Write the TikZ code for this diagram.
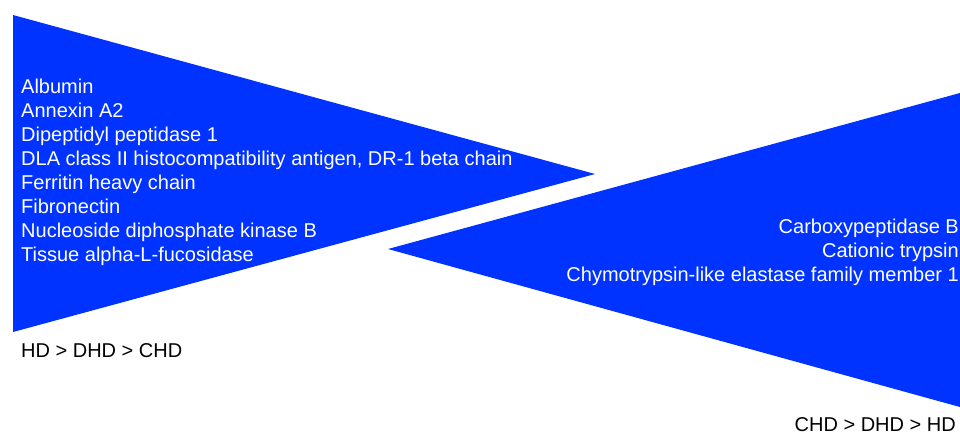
\documentclass[tikz,border=0pt]{standalone}
\usepackage{fontspec}
\setmainfont{Liberation Sans}
\definecolor{tri}{RGB}{0,51,255}
\begin{document}
\begin{tikzpicture}[x=1pt,y=-1pt,
  wt/.style={text=white,font=\fontsize{20}{24}\selectfont,inner sep=0pt},
  bt/.style={text=black,font=\fontsize{20}{24}\selectfont,inner sep=0pt}]
\useasboundingbox (0,0) rectangle (960,434);
\fill[tri] (13,15) -- (595,174) -- (13,332) -- cycle;
\fill[tri] (960,93) -- (388,249) -- (960,407) -- cycle;
\node[wt,anchor=base west] (l1) at (21,93) {Albumin};
\node[wt,anchor=base west] (l2) at (21,117) {Annexin A2};
\node[wt,anchor=base west] (l3) at (21,141) {Dipeptidyl peptidase 1};
\node[wt,anchor=base west] (l4) at (21,165) {DLA class II histocompatibility antigen, DR-1 beta chain};
\node[wt,anchor=base west] (l5) at (21,189) {Ferritin heavy chain};
\node[wt,anchor=base west] (l6) at (21,213) {Fibronectin};
\node[wt,anchor=base west] (l7) at (21,237) {Nucleoside diphosphate kinase B};
\node[wt,anchor=base west] (l8) at (21,261) {Tissue alpha-L-fucosidase};
\node[wt,anchor=base east] (r1) at (959,233) {Carboxypeptidase B};
\node[wt,anchor=base east] (r2) at (959,257) {Cationic trypsin};
\node[wt,anchor=base east] (r3) at (959,281) {Chymotrypsin-like elastase family member 1};
\node[bt,anchor=base west] (b1) at (21,357) {HD > DHD > CHD};
\node[bt,anchor=base east] (b2) at (956,431) {CHD > DHD > HD};
\end{tikzpicture}
\end{document}
